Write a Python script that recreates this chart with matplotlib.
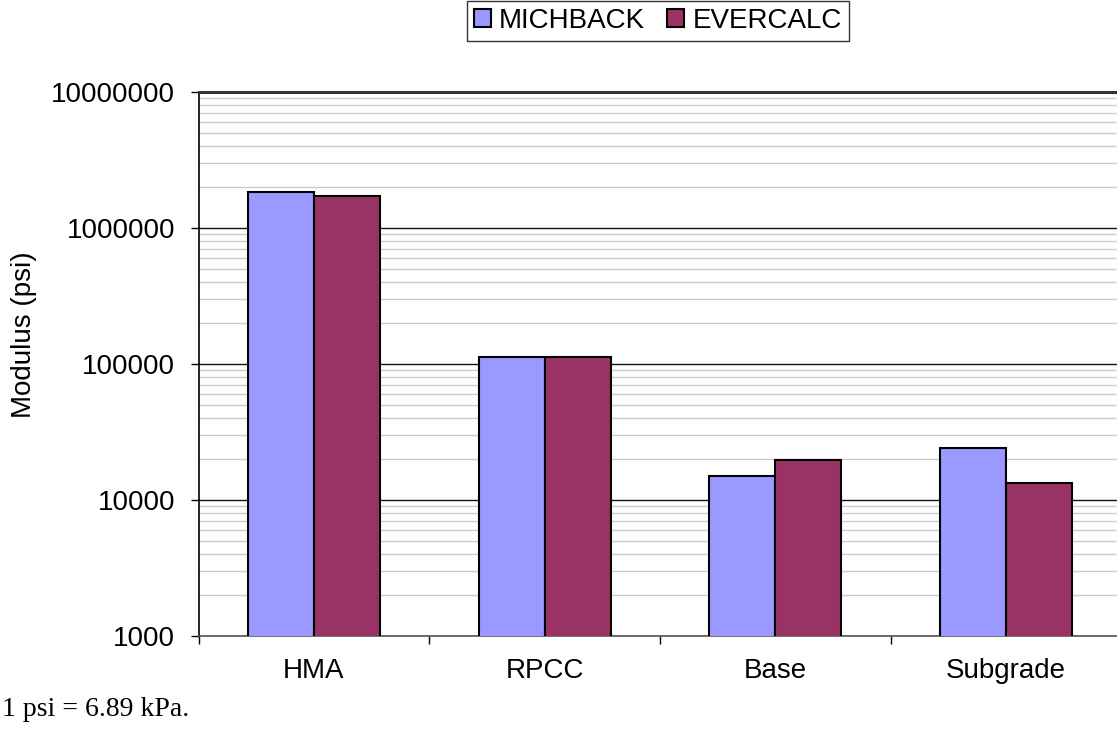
import numpy as np
import matplotlib
matplotlib.use('Agg')
import matplotlib.pyplot as plt
from matplotlib.ticker import LogLocator, NullFormatter, FixedLocator

# Backcalculated layer moduli (psi)
categories = ['HMA', 'RPCC', 'Base', 'Subgrade']
michback = [1830000, 112000, 15100, 24300]
evercalc = [1730000, 112000, 19700, 13400]

plt.rcParams['font.family'] = ['Liberation Sans', 'DejaVu Sans']

W, H = 1117, 732
fig = plt.figure(figsize=(W / 100, H / 100), dpi=100)
# plot area runs off the right edge of the canvas, as in the original
ax = fig.add_axes([198.5 / W, (H - 636) / H, 923 / W, 544 / H])

x = np.arange(len(categories))
bw = 0.286
ax.bar(x - bw / 2, michback, bw, color='#9999FF', edgecolor='black',
       linewidth=1.5, label='MICHBACK', zorder=3)
ax.bar(x + bw / 2, evercalc, bw, color='#993366', edgecolor='black',
       linewidth=1.5, label='EVERCALC', zorder=3)

ax.set_yscale('log')
ax.set_ylim(1000, 1e7)
ax.set_xlim(-0.5, len(categories) - 0.5)

ax.yaxis.set_major_locator(FixedLocator([1e3, 1e4, 1e5, 1e6, 1e7]))
ax.yaxis.set_major_formatter(matplotlib.ticker.FuncFormatter(lambda v, _: f'{int(round(v))}'))
ax.yaxis.set_minor_locator(LogLocator(base=10, subs=np.arange(2, 10)))
ax.yaxis.set_minor_formatter(NullFormatter())
ax.grid(which='major', axis='y', color='#111111', linewidth=1.0, zorder=1)
ax.grid(which='minor', axis='y', color='#cccccc', linewidth=1.0, zorder=1)
ax.tick_params(axis='y', which='major', direction='out', length=6,
               width=1, pad=11, labelsize=20)
ax.tick_params(axis='y', which='minor', length=0)

# category labels at centres, tick marks at category boundaries
ax.set_xticks(x)
ax.set_xticklabels(categories)
ax.set_xticks(np.arange(-0.5, len(categories)), minor=True)
ax.tick_params(axis='x', which='major', length=0, pad=16, labelsize=20)
ax.tick_params(axis='x', which='minor', direction='out', length=6, width=1)

for side in ('top', 'right'):
    ax.spines[side].set_visible(False)
ax.spines['left'].set_linewidth(1.2)
ax.spines['bottom'].set_color('#555555')
ax.spines['bottom'].set_linewidth(1.2)
ax.axhline(1e7, color='#333333', linewidth=2.2, zorder=4, clip_on=False)

ax.set_ylabel('Modulus (psi)', fontsize=20)
ax.yaxis.set_label_coords((37 - 198.5) / 923, (636 - 335) / 544)

leg = fig.legend(loc='center', bbox_to_anchor=(658 / W, 1 - 21 / H),
                 ncol=2, fontsize=20, frameon=True, fancybox=False,
                 handlelength=0.6, handleheight=0.6, handletextpad=0.3,
                 columnspacing=0.8, borderpad=0.25)
leg.get_frame().set_edgecolor('black')
leg.get_frame().set_linewidth(1.0)

fig.text(2 / W, 1 - 710 / H, '1 psi = 6.89 kPa.', fontsize=20,
         family=['Liberation Serif', 'DejaVu Serif'], va='center', ha='left')

fig.savefig('out.png', dpi=100)
